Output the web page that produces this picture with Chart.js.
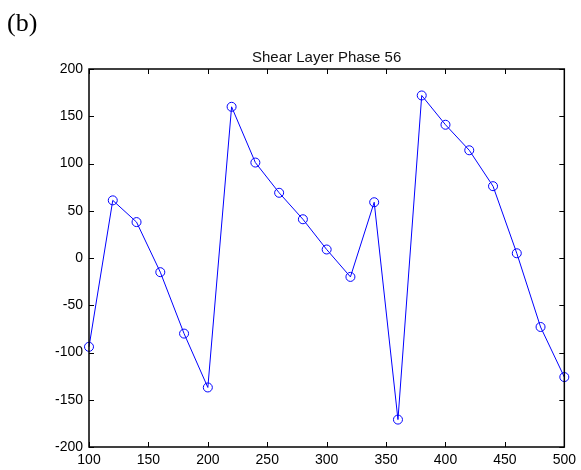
<!DOCTYPE html>
<html>
<head>
<meta charset="utf-8">
<script src="https://cdn.jsdelivr.net/npm/chart.js@4"></script>
<style>
  body { margin: 0; background: #fff; }
  #wrap { position: relative; width: 581px; height: 470px; }
  #label { position: absolute; left: 7px; top: 8px; font-family: "Liberation Serif", serif; font-size: 26px; color: #000; }
</style>
</head>
<body>
<div id="wrap">
  <div id="label">(b)</div>
  <canvas id="grafico" width="581" height="470"></canvas>
</div>
<script>
// Dados
const posicoes = [100, 120, 140, 160, 180, 200, 220, 240, 260, 280, 300, 320, 340, 360, 380, 400, 420, 440, 460, 480, 500];
const fase = [-94, 61, 38, -15, -80, -137, 160, 101, 69, 41, 9, -20, 59, -171, 172, 141, 114, 76, 5, -73, -126];
const ticksX = [100, 150, 200, 250, 300, 350, 400, 450, 500];
const ticksY = [-200, -150, -100, -50, 0, 50, 100, 150, 200];
const titulo = 'Shear Layer Phase 56';

const familia = 'Arial, "Liberation Sans", sans-serif';

// Moldura, marcas internas e título centrado nos eixos, estilo matlab
const moldura = {
  id: 'moldura',
  afterDraw(chart) {
    const { ctx, chartArea: a, scales } = chart;
    ctx.save();
    ctx.strokeStyle = '#000';
    ctx.lineWidth = 1;
    ctx.beginPath();
    ticksX.forEach(v => {
      const x = Math.round(scales.x.getPixelForValue(v)) + 0.5;
      ctx.moveTo(x, a.bottom); ctx.lineTo(x, a.bottom - 5);
      ctx.moveTo(x, a.top); ctx.lineTo(x, a.top + 5);
    });
    ticksY.forEach(v => {
      const y = Math.round(scales.y.getPixelForValue(v)) + 0.5;
      ctx.moveTo(a.left, y); ctx.lineTo(a.left + 5, y);
      ctx.moveTo(a.right, y); ctx.lineTo(a.right - 5, y);
    });
    ctx.stroke();
    ctx.lineWidth = 1.5;
    ctx.strokeRect(a.left, a.top, a.right - a.left, a.bottom - a.top);

    ctx.fillStyle = '#111';
    ctx.font = '15px ' + familia;
    ctx.textAlign = 'center';
    ctx.textBaseline = 'alphabetic';
    ctx.fillText(titulo, (a.left + a.right) / 2, a.top - 7.5);
    ctx.restore();
  }
};

const fonte = { family: familia, size: 14 };

new Chart(document.getElementById('grafico').getContext('2d'), {
  type: 'line',
  data: {
    datasets: [{
      data: posicoes.map((x, i) => ({ x, y: fase[i] })),
      borderColor: '#0000ff',
      borderWidth: 1,
      backgroundColor: 'rgba(0,0,0,0)',
      pointStyle: 'circle',
      pointRadius: 4.5,
      pointBorderColor: '#0000ff',
      pointBorderWidth: 1,
      pointBackgroundColor: 'rgba(0,0,0,0)',
      tension: 0,
      clip: false
    }]
  },
  options: {
    responsive: false,
    animation: false,
    devicePixelRatio: 1,
    layout: { padding: { left: 0, right: 14, top: 69, bottom: 0 } },
    plugins: {
      legend: { display: false },
      tooltip: { enabled: false },
      title: { display: false }
    },
    scales: {
      x: {
        type: 'linear',
        min: 100,
        max: 500,
        afterBuildTicks: s => { s.ticks = ticksX.map(value => ({ value })); },
        afterFit: s => { s.height = 23; },
        grid: { display: false, drawTicks: false, tickLength: 0 },
        border: { display: false },
        ticks: { color: '#000', font: fonte, padding: 5, maxRotation: 0 }
      },
      y: {
        type: 'linear',
        min: -200,
        max: 200,
        afterBuildTicks: s => { s.ticks = ticksY.map(value => ({ value })); },
        afterFit: s => { s.width = 89; },
        grid: { display: false, drawTicks: false, tickLength: 0 },
        border: { display: false },
        ticks: { color: '#000', font: fonte, padding: 6 }
      }
    }
  },
  plugins: [moldura]
});
</script>
</body>
</html>
